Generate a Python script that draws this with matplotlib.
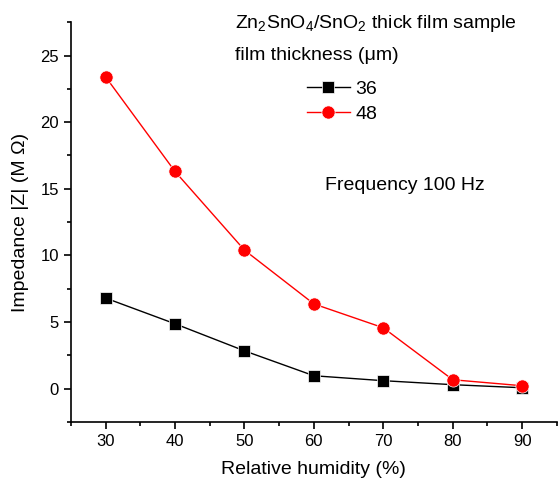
import matplotlib
matplotlib.use("Agg")
import matplotlib.pyplot as plt
from matplotlib.ticker import MultipleLocator

plt.rcParams['font.family'] = ['Liberation Sans', 'DejaVu Sans']
plt.rcParams['mathtext.fontset'] = 'custom'
plt.rcParams['mathtext.rm'] = 'Liberation Sans'
plt.rcParams['mathtext.it'] = 'Liberation Sans'

humidity = [30, 40, 50, 60, 70, 80, 90]
z_36 = [6.8, 4.87, 2.84, 0.97, 0.6, 0.3, 0.07]
z_48 = [23.4, 16.3, 10.4, 6.36, 4.57, 0.67, 0.22]
labels = ["36", "48"]

fig = plt.figure(figsize=(5.58, 4.83), dpi=100)
ax = fig.add_axes([0.127, 0.1263, 0.871, 0.8277])

l1, = ax.plot(humidity, z_36, color='black', lw=1, marker='s', ms=8.5,
              mfc='black', mec='white', mew=0.5, zorder=3)
l2, = ax.plot(humidity, z_48, color='red', lw=1, marker='o', ms=9.5,
              mfc='red', mec='white', mew=0.5, zorder=4)

ax.set_xlim(25, 95)
ax.set_ylim(-2.5, 27.5)
ax.xaxis.set_minor_locator(MultipleLocator(5))
ax.yaxis.set_major_locator(MultipleLocator(5))
ax.yaxis.set_minor_locator(MultipleLocator(2.5))
ax.set_xticks(range(30, 91, 10))
ax.spines['top'].set_visible(False)
ax.spines['right'].set_visible(False)
for s in ['left', 'bottom']:
    ax.spines[s].set_linewidth(1.2)
ax.tick_params(which='major', direction='out', length=5, width=1.2, labelsize=12)
ax.tick_params(which='minor', direction='out', length=3, width=1.2)

ax.set_xlabel("Relative humidity (%)", fontsize=14, labelpad=9)
ax.set_ylabel("Impedance |Z| (M Ω)", fontsize=14, labelpad=8)

fig.text(235/558, 1 - 24/483, r"Zn$_2$SnO$_4$/SnO$_2$ thick film sample", fontsize=14, va='center', ha='left')
fig.text(235/558, 1 - 55/483, "film thickness (μm)", fontsize=14, va='center', ha='left')
fig.text(325/558, 1 - 185/483, "Frequency 100 Hz", fontsize=14, va='center', ha='left')

leg = ax.legend([l1, l2], labels, loc='upper left', bbox_to_anchor=(307/558, 1 - 80/483),
                bbox_transform=fig.transFigure, frameon=False, fontsize=14,
                handlelength=2.2, handletextpad=0.3, labelspacing=0.4, borderpad=0,
                borderaxespad=0)
plt.savefig("out.png", dpi=100)
